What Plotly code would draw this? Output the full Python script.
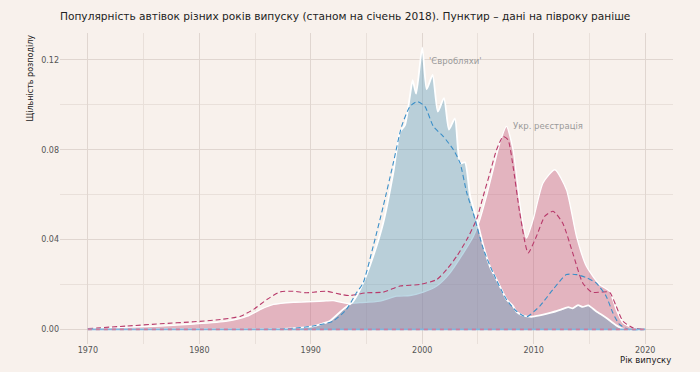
import plotly.graph_objects as go

# ---- data ----
blue_solid_x = [1970, 1985, 1988, 1990, 1991, 1991.7, 1992.9, 1993.8, 1994.7, 1995.6, 1996.5, 1997.4, 1998.0, 1998.45,
                1998.9, 1999.14, 1999.45, 2000.0, 2000.4, 2000.93, 2001.4, 2001.95, 2002.4, 2002.93, 2003.4, 2003.83,
                2004.3, 2004.9, 2005.5, 2006.07, 2006.67, 2007.26, 2007.56, 2008.15, 2008.46, 2009.05, 2009.8, 2010.55,
                2011.3, 2012.04, 2012.5, 2013.1, 2013.5, 2013.98, 2014.4, 2014.9, 2015.6, 2016.5, 2017.4, 2018.16, 2020]
blue_solid_y = [0, 0, 0.0003, 0.0012, 0.0025, 0.0037, 0.0089, 0.0125, 0.0207, 0.0326, 0.0474, 0.0696, 0.088, 0.091,
                0.104, 0.111, 0.105, 0.1255, 0.107, 0.1133, 0.097, 0.103, 0.089, 0.094, 0.074, 0.0744,
                0.0593, 0.0489, 0.037, 0.0281, 0.0222, 0.0163, 0.0133, 0.0104, 0.0078, 0.0062, 0.0056, 0.0062,
                0.0071, 0.0081, 0.0089, 0.0099, 0.0094, 0.0108, 0.0100, 0.0107, 0.0081, 0.0052, 0.0018, 0.0, 0]

pink_solid_x = [1970, 1973, 1976.5, 1979.5, 1982.5, 1984.3, 1985.5, 1986.65, 1988.44, 1990.2, 1991.4, 1992.0, 1993.2,
                1994.4, 1996.2, 1997.7, 1998.9, 2000.1, 2001.3, 2002.5, 2003.7, 2004.6, 2005.17, 2005.8, 2006.36,
                2006.96, 2007.56, 2008.15, 2008.75, 2009.35, 2009.95, 2010.84, 2011.9, 2012.94, 2013.84, 2014.73,
                2015.9, 2016.8, 2017.4, 2018.0, 2019.0, 2020]
pink_solid_y = [0.0004, 0.0009, 0.0015, 0.0024, 0.0037, 0.0059, 0.0089, 0.0111, 0.0121, 0.0124, 0.0127, 0.0128, 0.0116,
                0.0119, 0.0126, 0.0148, 0.0151, 0.0166, 0.0193, 0.0252, 0.0341, 0.0415, 0.0489, 0.060, 0.0711,
                0.083, 0.0904, 0.080, 0.0563, 0.0407, 0.0489, 0.0652, 0.0711, 0.0622, 0.0415, 0.0281,
                0.020, 0.017, 0.0089, 0.003, 0.0005, 0]

blue_dash_x = [1970, 1986, 1988, 1990.2, 1992.0, 1993.2, 1994.1, 1994.7, 1995.6, 1996.5, 1997.4, 1998.15, 1998.9,
               1999.55, 2000.24, 2001.0, 2001.9, 2002.8, 2003.4, 2004.0, 2004.57, 2005.5, 2006.36, 2007.56, 2008.46,
               2009.35, 2010.55, 2011.74, 2012.94, 2013.84, 2014.73, 2015.6, 2016.5, 2017.1, 2017.7, 2018.5, 2020]
blue_dash_y = [0, 0, 0.0003, 0.0015, 0.0037, 0.0089, 0.0163, 0.0207, 0.037, 0.0548, 0.074, 0.0904, 0.0993,
               0.1015, 0.0993, 0.0904, 0.0859, 0.080, 0.074, 0.0607, 0.0519, 0.0356, 0.0252, 0.0133, 0.0081,
               0.0056, 0.0104, 0.0178, 0.0244, 0.0244, 0.023, 0.0207, 0.0148, 0.0074, 0.0022, 0.0, 0]

pink_dash_x = [1970, 1973.5, 1976.5, 1979.5, 1981.9, 1983.7, 1984.86, 1986.06, 1987.25, 1988.44, 1989.6, 1990.5,
               1991.4, 1992.9, 1993.5, 1995.0, 1996.5, 1998.0, 1999.8, 2001.3, 2002.2, 2003.1, 2004.0, 2004.87,
               2005.47, 2006.07, 2006.67, 2007.26, 2007.7, 2008.15, 2008.75, 2009.5, 2010.25, 2011.0, 2011.74,
               2012.6, 2013.5, 2014.4, 2015.2, 2016.0, 2016.8, 2017.4, 2018.0, 2018.9, 2020]
pink_dash_y = [0.0004, 0.0015, 0.0025, 0.0034, 0.0044, 0.0059, 0.0089, 0.0133, 0.0167, 0.017, 0.0163, 0.0167,
               0.017, 0.0154, 0.0151, 0.0163, 0.0166, 0.0193, 0.020, 0.0222, 0.0267, 0.0326, 0.040, 0.0489,
               0.0593, 0.0696, 0.080, 0.0859, 0.0844, 0.0726, 0.0519, 0.0341, 0.0415, 0.0504, 0.0526,
               0.0474, 0.0341, 0.0207, 0.0166, 0.0166, 0.0166, 0.0104, 0.0037, 0.0007, 0]

baseline_x = [1970, 2020]
baseline_y = [0, 0]

x_ticks = [1970, 1980, 1990, 2000, 2010, 2020]
y_ticks = [0.0, 0.04, 0.08, 0.12]
y_tick_labels = ["0.00", "0.04", "0.08", "0.12"]

title_text = "Популярність автівок різних років випуску (станом на січень 2018). Пунктир – дані на півроку раніше"
label_blue = "'Євробляхи'"
label_pink = "Укр. реєстрація"

# ---- styles ----
BG = "#f8f1ec"
PINK_FILL = "rgba(196,91,126,0.40)"
BLUE_FILL = "rgba(90,158,191,0.40)"
PINK_LINE = "#b8396a"
BLUE_LINE = "#3b8fc8"
FONT = "DejaVu Sans"

fig = go.Figure()
fig.add_trace(go.Scatter(x=pink_solid_x, y=pink_solid_y, mode="lines", fill="tozeroy",
                         fillcolor=PINK_FILL, line=dict(color="white", width=1.3, shape="spline", smoothing=0.6),
                         hoverinfo="skip"))
fig.add_trace(go.Scatter(x=blue_solid_x, y=blue_solid_y, mode="lines", fill="tozeroy",
                         fillcolor=BLUE_FILL, line=dict(color="white", width=1.8, shape="spline", smoothing=0.6),
                         hoverinfo="skip"))
fig.add_trace(go.Scatter(x=pink_dash_x, y=pink_dash_y, mode="lines",
                         line=dict(color=PINK_LINE, width=1.1, dash="5px,3px", shape="spline", smoothing=0.6),
                         hoverinfo="skip"))
fig.add_trace(go.Scatter(x=blue_dash_x, y=blue_dash_y, mode="lines",
                         line=dict(color=BLUE_LINE, width=1.1, dash="5px,3px", shape="spline", smoothing=0.6),
                         hoverinfo="skip"))
fig.add_trace(go.Scatter(x=baseline_x, y=baseline_y, mode="lines",
                         line=dict(color="#7fb6dc", width=1.6), hoverinfo="skip"))
fig.add_trace(go.Scatter(x=baseline_x, y=baseline_y, mode="lines",
                         line=dict(color="#cf7c9c", width=1.6, dash="4px,4px"), hoverinfo="skip"))

fig.update_layout(
    width=700, height=372,
    margin=dict(l=60, r=27, t=33, b=28),
    paper_bgcolor=BG, plot_bgcolor=BG,
    showlegend=False,
    font=dict(family=FONT, size=8, color="#555555"),
    xaxis=dict(range=[1967.5, 2022.5], tickvals=x_ticks, ticktext=[str(v) for v in x_ticks],
               showgrid=True, gridcolor="#e0d6d0", gridwidth=1, zeroline=False, showline=False,
               ticks="", ticklen=0, automargin=False,
               minor=dict(dtick=5, tick0=1970, showgrid=True, gridcolor="#e9e0da", gridwidth=1),
               tickfont=dict(size=8, color="#555555"), fixedrange=True),
    yaxis=dict(range=[-0.0065, 0.132], tickvals=y_ticks, ticktext=y_tick_labels,
               showgrid=True, gridcolor="#e0d6d0", gridwidth=1, zeroline=False, showline=False,
               ticks="", ticklen=0, automargin=False,
               minor=dict(dtick=0.02, tick0=0, showgrid=True, gridcolor="#e9e0da", gridwidth=1),
               tickfont=dict(size=8, color="#555555"), fixedrange=True),
    annotations=[
        dict(text=title_text, xref="paper", yref="paper", x=0, y=1, xshift=-2, yshift=17,
             xanchor="left", yanchor="middle", showarrow=False,
             font=dict(family=FONT, size=10.6, color="#222222")),
        dict(text="Щільність розподілу", xref="paper", yref="paper", x=0, xshift=-30, y=1,
             xanchor="center", yanchor="top", textangle=-90, showarrow=False,
             font=dict(family=FONT, size=8, color="#222222")),
        dict(text="Рік випуску", xref="paper", yref="paper", x=1, y=0, yshift=-16,
             xanchor="right", yanchor="middle", showarrow=False,
             font=dict(family=FONT, size=8.5, color="#222222")),
        dict(text=label_blue, x=2000.45, y=0.1197, xanchor="left", yanchor="middle", showarrow=False,
             font=dict(family=FONT, size=8.5, color="#9a9a9a")),
        dict(text=label_pink, x=2008.0, y=0.0905, xanchor="left", yanchor="middle", showarrow=False,
             font=dict(family=FONT, size=8.5, color="#9a9a9a")),
    ],
)

fig.write_html("out.html", config={"displayModeBar": False, "staticPlot": True},
               post_script="document.body.style.margin='0';document.body.style.padding='0';")
